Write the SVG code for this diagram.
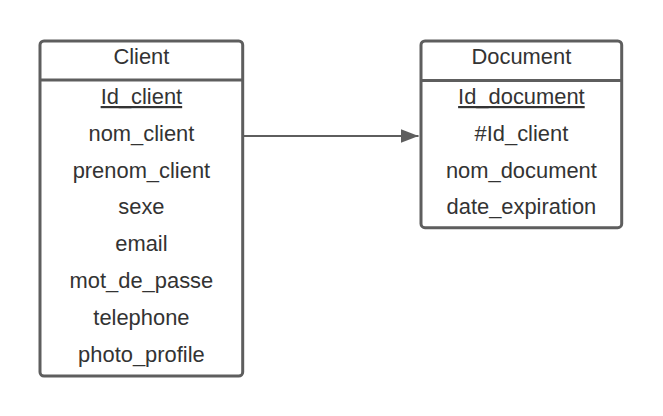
<svg xmlns="http://www.w3.org/2000/svg" width="663" height="416" viewBox="0 0 663 416">
<style>
.box{fill:#ffffff;stroke:#5e5e5e;stroke-width:3}
.sep{stroke:#5e5e5e;stroke-width:3}
.t{font-family:"Liberation Sans",Arial,sans-serif;font-size:21.9px;fill:#333333;text-anchor:middle}
.u{text-decoration:underline}
.conn{stroke:#5e5e5e;stroke-width:2;fill:none}
</style>
<defs>
<marker id="arr" markerUnits="userSpaceOnUse" markerWidth="20" markerHeight="16" refX="18" refY="7" orient="auto">
<path d="M0,0 L18,7 L0,14 Z" fill="#5e5e5e"/>
</marker>
</defs>
<rect width="663" height="416" fill="#ffffff"/>
<g id="connectors">
<line class="conn" x1="243" y1="136" x2="418.5" y2="136" marker-end="url(#arr)"/>
</g>
<g id="client">
<rect class="box" x="40" y="41" width="202.7" height="335" rx="4"/>
<line class="sep" x1="40" y1="80" x2="242.7" y2="80"/>
<text class="t" x="141.4" y="64.3">Client</text>
<text class="t u" x="141.4" y="104">Id_client</text>
<text class="t" x="141.4" y="140.8">nom_client</text>
<text class="t" x="141.4" y="177.6">prenom_client</text>
<text class="t" x="141.4" y="214.4">sexe</text>
<text class="t" x="141.4" y="251.2">email</text>
<text class="t" x="141.4" y="288">mot_de_passe</text>
<text class="t" x="141.4" y="324.8">telephone</text>
<text class="t" x="141.4" y="361.6">photo_profile</text>
</g>
<g id="document">
<rect class="box" x="421" y="41" width="200.7" height="186.7" rx="4"/>
<line class="sep" x1="421" y1="80.5" x2="621.7" y2="80.5"/>
<text class="t" x="521.4" y="64.3">Document</text>
<text class="t u" x="521.4" y="104">Id_document</text>
<text class="t" x="521.4" y="140.8">#Id_client</text>
<text class="t" x="521.4" y="177.6">nom_document</text>
<text class="t" x="521.4" y="214.4">date_expiration</text>
</g>
</svg>
